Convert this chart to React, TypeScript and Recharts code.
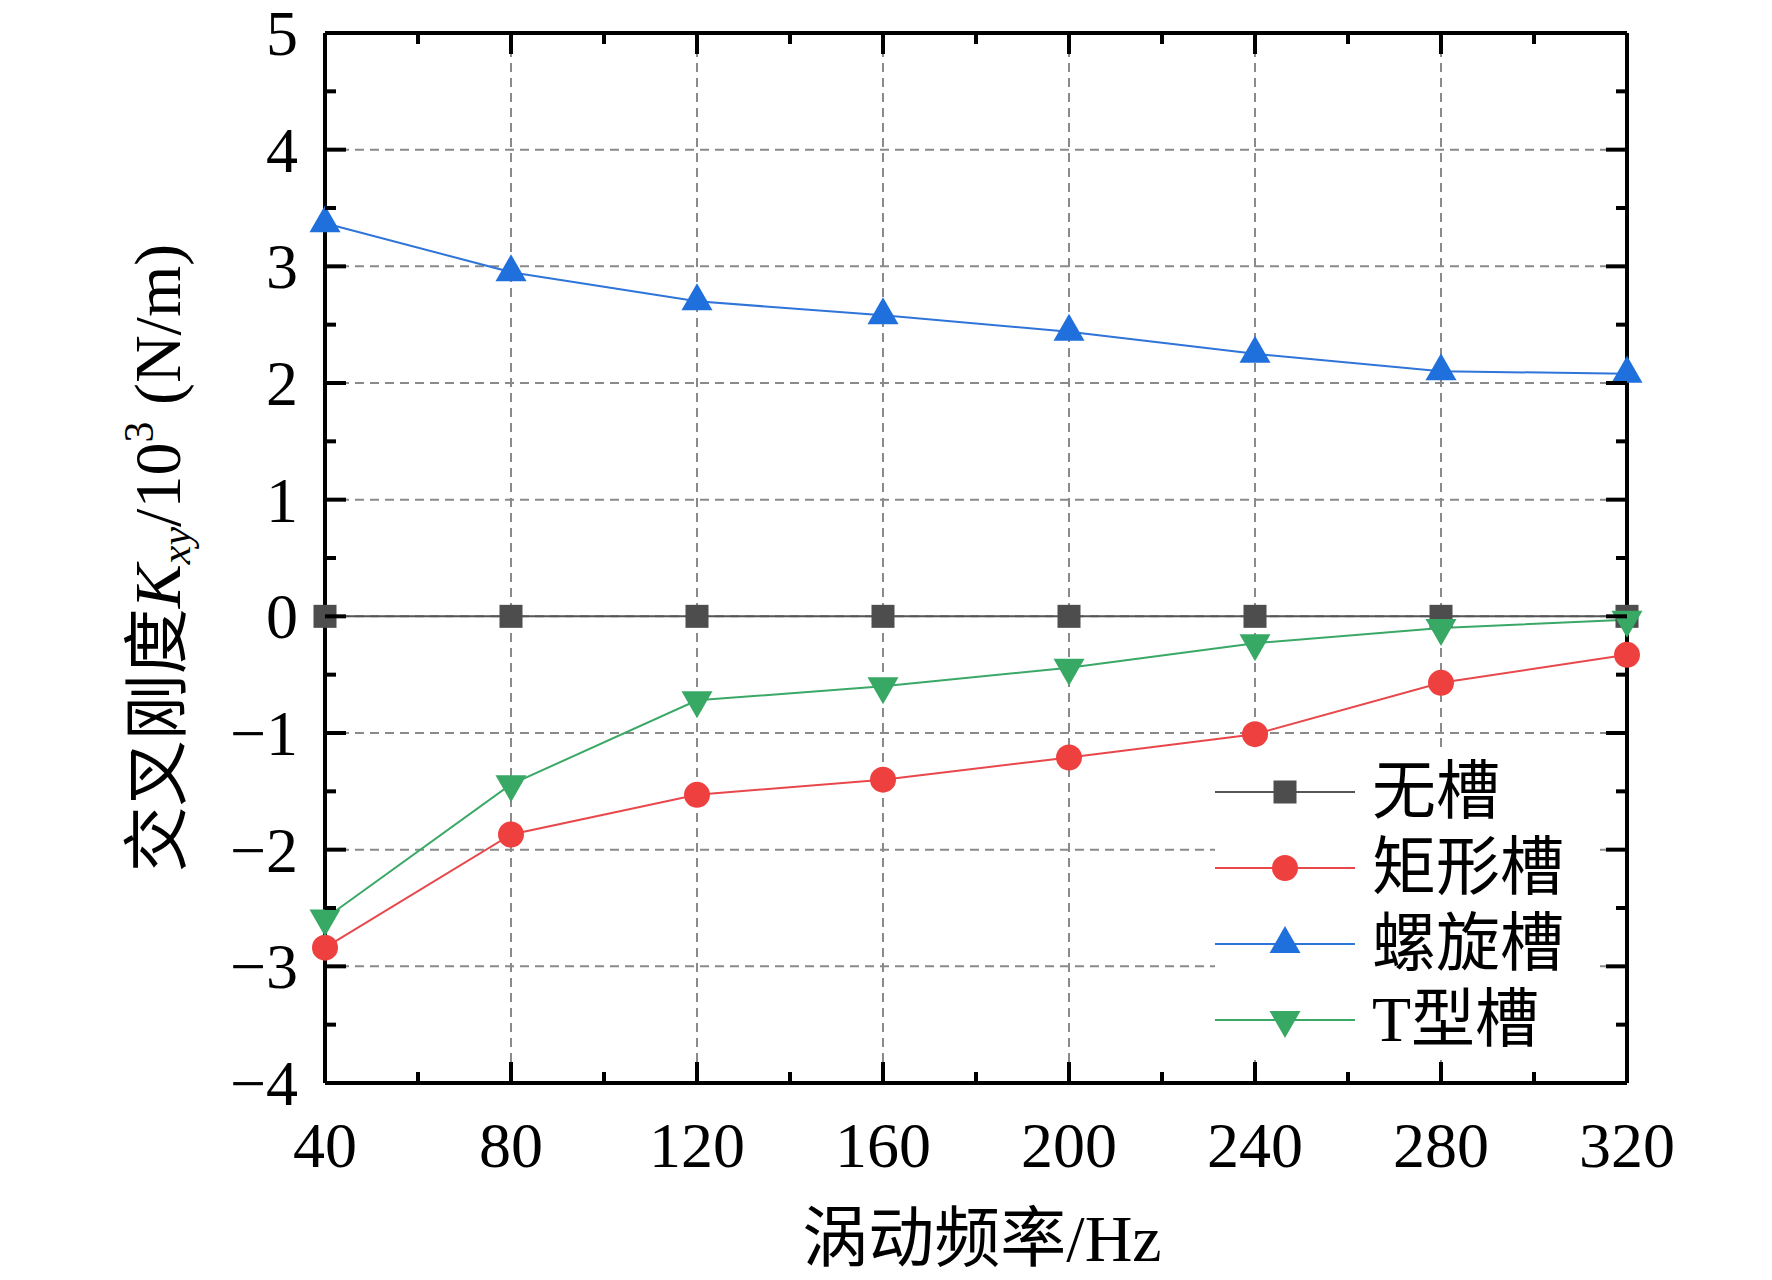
import { LineChart, Line, XAxis, YAxis, CartesianGrid, Legend } from 'recharts';

// 涡动频率 (Hz)
const freqs = [40, 80, 120, 160, 200, 240, 280, 320];
// 交叉刚度 Kxy / 10^3 (N/m)
const noGroove = [0, 0, 0, 0, 0, 0, 0, 0];
const rectGroove = [-2.84, -1.87, -1.53, -1.4, -1.21, -1.01, -0.57, -0.33];
const spiralGroove = [3.37, 2.95, 2.7, 2.58, 2.44, 2.25, 2.1, 2.08];
const tGroove = [-2.59, -1.44, -0.72, -0.6, -0.44, -0.23, -0.1, -0.03];

const seriesNames = ['无槽', '矩形槽', '螺旋槽', 'T型槽'];

const xMajorTicks = [40, 80, 120, 160, 200, 240, 280, 320];
const xMinorTicks = [60, 100, 140, 180, 220, 260, 300];
const yMajorTicks = [-4, -3, -2, -1, 0, 1, 2, 3, 4, 5];
const yMinorTicks = [-3.5, -2.5, -1.5, -0.5, 0.5, 1.5, 2.5, 3.5, 4.5];

const data = freqs.map((f, i) => ({
  f,
  none: noGroove[i],
  rect: rectGroove[i],
  spiral: spiralGroove[i],
  t: tGroove[i],
}));

const keys = ['none', 'rect', 'spiral', 't'];

const COLORS: Record<string, string> = {
  none: '#4d4d4d',
  rect: '#ef4040',
  spiral: '#1f6fdc',
  t: '#38a865',
};
const LINE_COLORS: Record<string, string> = {
  none: '#555555',
  rect: '#e8484b',
  spiral: '#2f74d8',
  t: '#3aa866',
};

const serif = '"Liberation Serif", "Times New Roman", "Noto Sans CJK SC", serif';
const fmt = (v: number) => (v < 0 ? `\u2212${Math.abs(v)}` : `${v}`);

function marker(kind: string, cx: number, cy: number, key?: string | number) {
  const c = COLORS[kind];
  if (kind === 'none') {
    return <rect key={key} x={cx - 11.5} y={cy - 11.5} width={23} height={23} fill={c} />;
  }
  if (kind === 'rect') {
    return <circle key={key} cx={cx} cy={cy} r={13} fill={c} />;
  }
  if (kind === 'spiral') {
    // up triangle, centroid at the point
    return (
      <polygon
        key={key}
        points={`${cx},${cy - 18} ${cx - 15.5},${cy + 9} ${cx + 15.5},${cy + 9}`}
        fill={c}
      />
    );
  }
  return (
    <polygon
      key={key}
      points={`${cx},${cy + 18} ${cx - 15.5},${cy - 9} ${cx + 15.5},${cy - 9}`}
      fill={c}
    />
  );
}

const dotFor = (kind: string) => (props: any) => {
  const { cx, cy, index } = props;
  if (cx == null || cy == null) return <g key={`${kind}-${index}`} />;
  return marker(kind, cx, cy, `${kind}-${index}`);
};

// ticks point inward on all four sides
const BottomTick = ({ x, y, payload }: any) => (
  <g>
    <line x1={x} y1={y} x2={x} y2={y - 21} stroke="#000" strokeWidth={4} />
    <text x={x} y={y + 84} textAnchor="middle" fontSize={64} fontFamily={serif} fill="#000">
      {payload.value}
    </text>
  </g>
);
const BottomMinorTick = ({ x, y }: any) => (
  <line x1={x} y1={y - 1} x2={x} y2={y - 12} stroke="#000" strokeWidth={4} />
);
const TopTick = ({ x, y }: any) => (
  <line x1={x} y1={y} x2={x} y2={y + 21} stroke="#000" strokeWidth={4} />
);
const TopMinorTick = ({ x, y }: any) => (
  <line x1={x} y1={y + 1} x2={x} y2={y + 12} stroke="#000" strokeWidth={4} />
);
const LeftTick = ({ x, y, payload }: any) => (
  <g>
    <line x1={x} y1={y} x2={x + 21} y2={y} stroke="#000" strokeWidth={4} />
    <text x={x - 27} y={y + 22} textAnchor="end" fontSize={64} fontFamily={serif} fill="#000">
      {fmt(payload.value)}
    </text>
  </g>
);
const LeftMinorTick = ({ x, y }: any) => (
  <line x1={x + 1} y1={y} x2={x + 12} y2={y} stroke="#000" strokeWidth={4} />
);
const RightTick = ({ x, y }: any) => (
  <line x1={x} y1={y} x2={x - 21} y2={y} stroke="#000" strokeWidth={4} />
);
const RightMinorTick = ({ x, y }: any) => (
  <line x1={x - 1} y1={y} x2={x - 12} y2={y} stroke="#000" strokeWidth={4} />
);

const XTitle = ({ viewBox }: any) => (
  <text
    x={viewBox.x + viewBox.width / 2 + 6}
    y={viewBox.y + 178}
    textAnchor="middle"
    fontSize={66}
    fontFamily={serif}
    fill="#000"
  >
    涡动频率/Hz
  </text>
);

const YTitle = ({ viewBox }: any) => (
  <text
    transform={`translate(${viewBox.x + viewBox.width - 145},${viewBox.y + viewBox.height / 2}) rotate(-90)`}
    textAnchor="middle"
    fontSize={66}
    fontFamily={serif}
    fill="#000"
  >
    <tspan>交叉刚度</tspan>
    <tspan fontStyle="italic">K</tspan>
    <tspan fontStyle="italic" fontSize={42} dy={10}>
      xy
    </tspan>
    <tspan dy={-10}>/10</tspan>
    <tspan fontSize={42} dy={-27}>
      3
    </tspan>
    <tspan dy={27}>{' (N/m)'}</tspan>
  </text>
);

const renderLegend = (props: any) => {
  const payload = [...(props.payload || [])].sort(
    (a: any, b: any) => keys.indexOf(a.dataKey) - keys.indexOf(b.dataKey)
  );
  return (
    <div style={{ background: '#fff', paddingTop: 4, width: 385, height: 306 }}>
      {payload.map((entry: any) => (
        <div key={entry.value} style={{ display: 'flex', alignItems: 'center', height: 76 }}>
          <svg width={145} height={76} style={{ flex: 'none' }}>
            <line x1={0} y1={38} x2={140} y2={38} stroke={LINE_COLORS[entry.dataKey]} strokeWidth={2} />
            {marker(entry.dataKey, 70, 38)}
          </svg>
          <span
            style={{ marginLeft: 12, fontSize: 64, fontFamily: serif, lineHeight: '76px', color: '#000' }}
          >
            {entry.value}
          </span>
        </div>
      ))}
    </div>
  );
};

const axisCommon = {
  type: 'number' as const,
  interval: 0 as const,
  tickSize: 0,
  tickMargin: 0,
  tickLine: false,
};

export default function App() {
  return (
    <div style={{ position: 'absolute', left: 0, top: 0, background: '#fff' }}>
      <LineChart
        width={1772}
        height={1280}
        data={data}
        margin={{ top: 31, right: 143, bottom: 195, left: 323 }}
      >
        <CartesianGrid
          xAxisId="x"
          yAxisId="y"
          stroke="#8a8a8a"
          strokeWidth={2}
          strokeDasharray="9 6"
        />
        <XAxis
          {...axisCommon}
          xAxisId="x"
          dataKey="f"
          domain={[40, 320]}
          ticks={xMajorTicks}
          height={1}
          axisLine={{ stroke: '#000', strokeWidth: 4 }}
          tick={<BottomTick />}
          label={<XTitle />}
        />
        <XAxis
          {...axisCommon}
          xAxisId="xm"
          dataKey="f"
          domain={[40, 320]}
          ticks={xMinorTicks}
          height={1}
          axisLine={false}
          tick={<BottomMinorTick />}
        />
        <XAxis
          {...axisCommon}
          xAxisId="xt"
          orientation="top"
          dataKey="f"
          domain={[40, 320]}
          ticks={xMajorTicks}
          height={1}
          axisLine={{ stroke: '#000', strokeWidth: 4 }}
          tick={<TopTick />}
        />
        <XAxis
          {...axisCommon}
          xAxisId="xtm"
          orientation="top"
          dataKey="f"
          domain={[40, 320]}
          ticks={xMinorTicks}
          height={1}
          axisLine={false}
          tick={<TopMinorTick />}
        />
        <YAxis
          {...axisCommon}
          yAxisId="y"
          domain={[-4, 5]}
          ticks={yMajorTicks}
          width={1}
          axisLine={{ stroke: '#000', strokeWidth: 4 }}
          tick={<LeftTick />}
          label={<YTitle />}
        />
        <YAxis
          {...axisCommon}
          yAxisId="ym"
          domain={[-4, 5]}
          allowDataOverflow
          ticks={yMinorTicks}
          width={1}
          axisLine={false}
          tick={<LeftMinorTick />}
        />
        <YAxis
          {...axisCommon}
          yAxisId="yr"
          orientation="right"
          domain={[-4, 5]}
          allowDataOverflow
          ticks={yMajorTicks}
          width={1}
          axisLine={{ stroke: '#000', strokeWidth: 4 }}
          tick={<RightTick />}
        />
        <YAxis
          {...axisCommon}
          yAxisId="yrm"
          orientation="right"
          domain={[-4, 5]}
          allowDataOverflow
          ticks={yMinorTicks}
          width={1}
          axisLine={false}
          tick={<RightMinorTick />}
        />
        {keys.map((k, i) => (
          <Line
            key={k}
            xAxisId="x"
            yAxisId="y"
            type="linear"
            dataKey={k}
            name={seriesNames[i]}
            stroke={LINE_COLORS[k]}
            strokeWidth={2}
            dot={dotFor(k)}
            activeDot={false}
            isAnimationActive={false}
          />
        ))}
        <Legend
          layout="horizontal"
          verticalAlign="middle"
          content={renderLegend}
          wrapperStyle={{ left: 1215, top: 750, width: 385, height: 310 }}
        />
      </LineChart>
    </div>
  );
}
